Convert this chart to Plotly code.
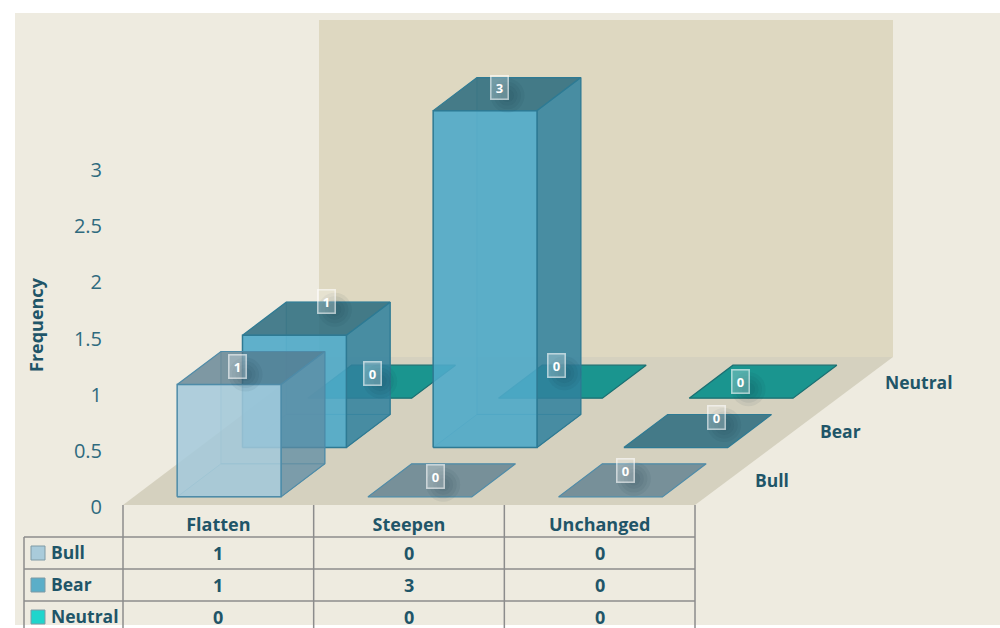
"""Excel-style 3D clustered column chart with data table, drawn as an oblique projection."""
import plotly.graph_objects as go

CATEGORIES = ["Flatten", "Steepen", "Unchanged"]
SERIES = ["Bull", "Bear", "Neutral"]
BULL = [1, 0, 0]
BEAR = [1, 3, 0]
NEUTRAL = [0, 0, 0]
VALUE_TICKS = [0, 0.5, 1, 1.5, 2, 2.5, 3]
VALUE_MAX = 3

W, H = 1000, 628
# Figure scale: pixels per category / per value unit, and where the origin sits
PX_CAT = 190.67
PX_VAL = 112.3
ORIGIN_X, ORIGIN_Y = 123, 505
# One series step into the depth, in pixels
DEPTH_X, DEPTH_UP = 65.33, 49.33
BAR_W = 0.545
BAR_D = 0.67
# The back edge of the box is a touch wider than the front one
BACK_STRETCH = 0.0105

TEXT = "#1f5568"
TICK = "#2f6a7e"
FONT = "Open Sans"
BG = "#eeebe0"
WALL = "#ded8c1"
FLOOR = "#d5d1bf"
GRID = "#8c8c8c"

STYLES = {
    "Bull": dict(front="rgba(163,201,219,0.85)", side="rgba(94,140,163,0.72)", top="rgba(83,119,138,0.72)",
                 edge="#4e8ba8", swatch="#a9cbda"),
    "Bear": dict(front="rgba(79,170,201,0.9)", side="rgba(48,129,158,0.85)", top="rgba(42,107,126,0.85)",
                 edge="#2e7a93", swatch="#5baec8"),
    "Neutral": dict(front="rgba(16,170,165,0.9)", side="rgba(10,143,139,0.85)", top="rgba(10,143,139,0.92)",
                    edge="#1a6f72", swatch="#1fd5cc"),
}

# Hand-placed data labels in the original: pixel offset from the centre of each top face
LABEL_NUDGE = {
    "Bull": [(-13.5, -1.5), (-6.5, -3.5), (-6.5, -9.5)],
    "Bear": [(10.5, -17), (-7.5, -6.5), (18.5, -14)],
    "Neutral": [(-9.5, -8.5), (-16, -16.5), (-22.5, -0.5)],
}


def project(cat, depth, value):
    """Category position, series depth and value -> x, y on the flat cartesian axes."""
    return cat + depth * DEPTH_X / PX_CAT, value + depth * DEPTH_UP / PX_VAL


def face(points, fill, edge, width=1.2):
    xs, ys = zip(*[project(*p) for p in points + points[:1]])
    return go.Scatter(x=xs, y=ys, mode="lines", fill="toself", fillcolor=fill,
                      line=dict(color=edge, width=width), hoverinfo="skip", showlegend=False)


def bar_faces(cat, s, value, style):
    x0 = cat + (1 - BAR_W) / 2
    x1 = x0 + BAR_W
    d0 = s + (1 - BAR_D) / 2
    d1 = d0 + BAR_D
    traces = []
    if value > 0:
        # inner faces show through the translucent front
        traces.append(face([(x0, d0, 0), (x1, d0, 0), (x1, d1, 0), (x0, d1, 0)], "rgba(70,120,140,0.10)", "rgba(60,130,155,0.45)", 1))
        traces.append(face([(x0, d1, 0), (x1, d1, 0), (x1, d1, value), (x0, d1, value)], "rgba(70,130,150,0.10)", "rgba(60,130,155,0.45)", 1))
    traces.append(face([(x0, d0, value), (x1, d0, value), (x1, d1, value), (x0, d1, value)], style["top"], style["edge"]))
    if value > 0:
        traces.append(face([(x1, d0, 0), (x1, d1, 0), (x1, d1, value), (x1, d0, value)], style["side"], style["edge"]))
        traces.append(face([(x0, d0, 0), (x1, d0, 0), (x1, d0, value), (x0, d0, value)], style["front"], style["edge"], 1.5))
    return traces


def paper_x(px):
    return px / W


def paper_y(px):
    return 1 - px / H


VALUES = dict(zip(SERIES, [BULL, BEAR, NEUTRAL]))
n_cat, n_ser = len(CATEGORIES), len(SERIES)
back_right = n_cat + BACK_STRETCH

fig = go.Figure()
# Back wall and floor
fig.add_trace(face([(0, n_ser, 0), (back_right, n_ser, 0), (back_right, n_ser, VALUE_MAX), (0, n_ser, VALUE_MAX)], WALL, WALL, 0))
fig.add_trace(face([(0, 0, 0), (n_cat, 0, 0), (back_right, n_ser, 0), (0, n_ser, 0)], FLOOR, FLOOR, 0))

# Back series first so the front ones overlap them
for s in reversed(range(n_ser)):
    name = SERIES[s]
    for c in range(n_cat):
        for tr in bar_faces(c, s, VALUES[name][c], STYLES[name]):
            fig.add_trace(tr)

annotations = []
shadow_x, shadow_y, shadow_size = [], [], []
for s, name in enumerate(SERIES):
    for c, v in enumerate(VALUES[name]):
        cx, cy = project(c + 0.5, s + 0.5, v)
        nx, ny = LABEL_NUDGE[name][c]
        cx += nx / PX_CAT
        cy -= ny / PX_VAL
        for size in (34, 27, 20, 13):
            shadow_x.append(cx + 8 / PX_CAT)
            shadow_y.append(cy - 8 / PX_VAL)
            shadow_size.append(size)
        annotations.append(dict(x=cx, y=cy, xref="x", yref="y", text=f"<b>{v}</b>", showarrow=False,
                                width=16, height=22, bgcolor="rgba(255,255,255,0.25)",
                                bordercolor="rgba(255,255,255,0.6)", borderwidth=1.5, borderpad=0,
                                font=dict(family=FONT, size=13, color="white")))
fig.add_trace(go.Scatter(x=shadow_x, y=shadow_y, mode="markers", hoverinfo="skip", showlegend=False,
                         marker=dict(size=shadow_size, color="rgba(20,50,60,0.09)", line=dict(width=0))))

# Series names along the depth axis
for s, name in enumerate(SERIES):
    dx, dy = project(n_cat, s + 0.5, 0)
    annotations.append(dict(x=dx, y=dy, xref="x", yref="y", xshift=25, xanchor="left", yanchor="middle",
                            text=f"<b>{name}</b>", showarrow=False, font=dict(family=FONT, size=17.5, color=TEXT)))

annotations.append(dict(x=paper_x(36), y=paper_y(325), xref="paper", yref="paper", text="<b>Frequency</b>",
                        textangle=-90, xanchor="center", yanchor="middle", showarrow=False,
                        font=dict(family=FONT, size=18, color=TEXT)))

# Data table
ROW_TOPS = [537, 569, 601]
shapes = [dict(type="rect", xref="paper", yref="paper", x0=paper_x(15), x1=1, y0=paper_y(625), y1=paper_y(13),
               fillcolor=BG, line=dict(width=0), layer="below")]
for top in ROW_TOPS:
    shapes.append(dict(type="line", xref="paper", yref="paper", x0=paper_x(24), x1=paper_x(695),
                       y0=paper_y(top), y1=paper_y(top), line=dict(color=GRID, width=1.5)))
shapes.append(dict(type="line", xref="paper", yref="paper", x0=paper_x(24), x1=paper_x(24), y0=0, y1=paper_y(537),
                   line=dict(color=GRID, width=1.5)))
for c in range(n_cat + 1):
    shapes.append(dict(type="line", xref="x", yref="paper", x0=c, x1=c, y0=0, y1=paper_y(505),
                       line=dict(color=GRID, width=1.5)))
for s, name in enumerate(SERIES):
    mid = ROW_TOPS[s] + 16
    shapes.append(dict(type="rect", xref="paper", yref="paper", x0=paper_x(31), x1=paper_x(45),
                       y0=paper_y(mid + 7), y1=paper_y(mid - 7), fillcolor=STYLES[name]["swatch"],
                       line=dict(color="#7f9aa5", width=1)))
    annotations.append(dict(x=paper_x(49), y=paper_y(mid - 1), xref="paper", yref="paper", xanchor="left",
                            yanchor="middle", text=f"<b>{name}</b>", showarrow=False,
                            font=dict(family=FONT, size=17.5, color=TEXT)))
    for c, v in enumerate(VALUES[name]):
        annotations.append(dict(x=c + 0.5, y=paper_y(mid), xref="x", yref="paper", xanchor="center",
                                yanchor="middle", text=f"<b>{v}</b>", showarrow=False,
                                font=dict(family=FONT, size=18, color=TEXT)))

fig.update_layout(
    width=W, height=H, margin=dict(l=0, r=0, t=0, b=0, pad=0, autoexpand=False),
    paper_bgcolor="white", plot_bgcolor="rgba(0,0,0,0)", showlegend=False,
    annotations=annotations, shapes=shapes, font=dict(family=FONT, color=TEXT),
)
fig.update_xaxes(range=[-ORIGIN_X / PX_CAT, (W - ORIGIN_X) / PX_CAT], showgrid=False, zeroline=False,
                 showline=False, ticks="", anchor="free", position=paper_y(512), tickmode="array",
                 tickvals=[c + 0.5 for c in range(n_cat)], ticktext=[f"<b>{c}</b>" for c in CATEGORIES],
                 tickfont=dict(family=FONT, size=18, color=TEXT))
fig.update_yaxes(range=[(ORIGIN_Y - H) / PX_VAL, ORIGIN_Y / PX_VAL], showgrid=False, zeroline=False,
                 showline=False, ticks="", anchor="free", position=paper_x(102), tickmode="array",
                 tickvals=VALUE_TICKS, ticktext=[f"{t:g}" for t in VALUE_TICKS], ticklabelshift=2,
                 tickfont=dict(family=FONT, size=20, color=TICK))

# body margin would otherwise push the fixed-size figure off the window
fig.write_html("out.html", config={"displayModeBar": False}, post_script="document.body.style.margin = '0';")
